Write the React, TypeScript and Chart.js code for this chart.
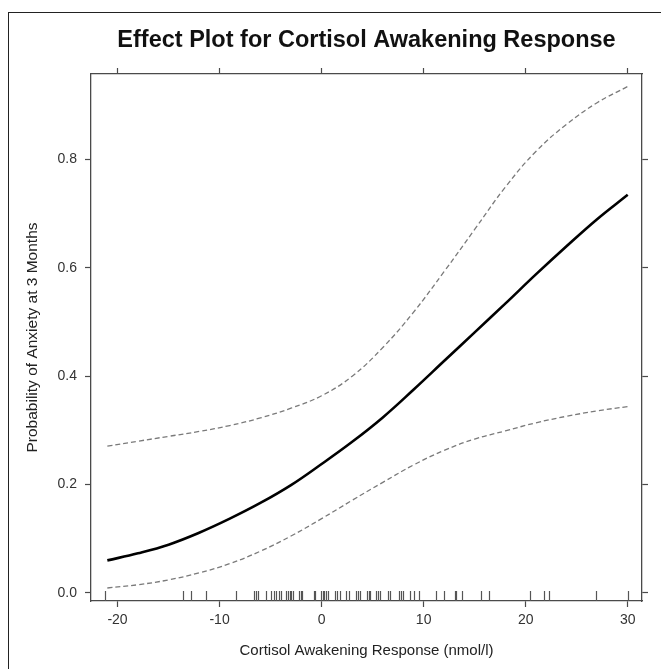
import React, { useEffect, useRef } from "react";
import { Chart, registerables } from "chart.js";

Chart.register(...registerables);

const xValues = [-21, -18, -15, -12, -9, -6, -3, 0, 3, 6, 9, 12, 15, 18, 21, 24, 27, 30];
const fitValues = [0.060, 0.073, 0.089, 0.111, 0.137, 0.166, 0.199, 0.238, 0.279, 0.324, 0.375, 0.428, 0.481, 0.534, 0.588, 0.640, 0.690, 0.735];
const upperValues = [0.271, 0.280, 0.289, 0.298, 0.309, 0.323, 0.341, 0.364, 0.400, 0.453, 0.518, 0.593, 0.671, 0.749, 0.815, 0.865, 0.905, 0.935];
const lowerValues = [0.009, 0.015, 0.024, 0.037, 0.054, 0.077, 0.105, 0.137, 0.171, 0.204, 0.236, 0.263, 0.284, 0.299, 0.314, 0.326, 0.336, 0.344];
const rugValues = [
  -21.2, -13.6, -12.79, -11.29, -8.4, -6.66, -6.46, -6.26, -5.48, -4.95, -4.7, -4.43, -4.17, -3.94,
  -3.45, -3.28, -3.13, -2.96, -2.79, -2.18, -2.01, -1.91, -0.77, -0.61, -0.05, 0.11, 0.27, 0.44, 0.6,
  1.35, 1.52, 1.84, 2.43, 2.73, 3.38, 3.54, 3.74, 4.46, 4.62, 4.78, 5.34, 5.5, 5.7, 6.48, 6.68, 7.56,
  7.79, 7.99, 8.71, 9.03, 9.56, 11.19, 11.97, 13.05, 13.22, 13.77, 15.64, 16.45, 20.4, 21.84, 22.33,
  26.91, 30.05,
];
const xTicks = [-20, -10, 0, 10, 20, 30];
const yTicks = [0, 0.2, 0.4, 0.6, 0.8];

const titleText = "Effect Plot for Cortisol Awakening Response";
const xTitle = "Cortisol Awakening Response (nmol/l)";
const yTitle = "Probability of Anxiety at 3 Months";

const X_MIN = -22.6;
const X_MAX = 31.4;
const Y_MIN = -0.015;
const Y_MAX = 0.958;

const FONT = "'Liberation Sans', Arial, sans-serif";
const AXIS_COLOR = "#4a4a4a";

const rugPlugin = {
  id: "rug",
  afterDatasetsDraw(chart: any) {
    const { ctx, chartArea, scales } = chart;
    const xs = scales.x;
    ctx.save();
    ctx.strokeStyle = "#555";
    ctx.lineWidth = 1.2;
    for (const v of rugValues) {
      const px = Math.round(xs.getPixelForValue(v)) + 0.5;
      ctx.beginPath();
      ctx.moveTo(px, chartArea.bottom);
      ctx.lineTo(px, chartArea.bottom - 10);
      ctx.stroke();
    }
    ctx.restore();
  },
};

function toPoints(vals: number[]) {
  return xValues.map((x, i) => ({ x, y: vals[i] }));
}

export default function App() {
  const ref = useRef<HTMLCanvasElement | null>(null);

  useEffect(() => {
    if (!ref.current) return;
    const setXTicks = (axis: any) => {
      axis.ticks = xTicks.map((v) => ({ value: v }));
    };
    const setYTicks = (axis: any) => {
      axis.ticks = yTicks.map((v) => ({ value: v }));
    };
    const gridCommon = {
      drawOnChartArea: false,
      drawTicks: true,
      tickLength: 6,
      color: AXIS_COLOR,
      tickWidth: 1.2,
    };
    const borderCommon = { display: true, color: AXIS_COLOR, width: 1.3 };

    const chart = new Chart(ref.current, {
      type: "line",
      data: {
        datasets: [
          {
            label: "upper",
            data: toPoints(upperValues),
            borderColor: "#7a7a7a",
            borderWidth: 1.3,
            borderDash: [5, 3],
            pointRadius: 0,
            tension: 0.4,
            fill: false,
          },
          {
            label: "lower",
            data: toPoints(lowerValues),
            borderColor: "#7a7a7a",
            borderWidth: 1.3,
            borderDash: [5, 3],
            pointRadius: 0,
            tension: 0.4,
            fill: false,
          },
          {
            label: "fit",
            data: toPoints(fitValues),
            borderColor: "#000",
            borderWidth: 2.6,
            pointRadius: 0,
            tension: 0.4,
            fill: false,
          },
        ],
      },
      options: {
        responsive: false,
        animation: false,
        events: [],
        layout: { padding: 0 },
        plugins: {
          legend: { display: false },
          tooltip: { enabled: false },
          title: { display: false },
        },
        scales: {
          x: {
            type: "linear",
            position: "bottom",
            min: X_MIN,
            max: X_MAX,
            afterBuildTicks: setXTicks,
            afterFit: (s: any) => {
              s.height = 68;
            },
            grid: gridCommon,
            border: borderCommon,
            ticks: {
              color: "#333",
              font: { family: FONT, size: 14 },
              padding: 5,
              maxRotation: 0,
              callback: (v: any) => String(v),
            },
            title: {
              display: true,
              text: xTitle,
              color: "#222",
              font: { family: FONT, size: 15 },
              padding: { top: 0, bottom: 9 },
            },
          },
          x2: {
            type: "linear",
            position: "top",
            min: X_MIN,
            max: X_MAX,
            afterBuildTicks: setXTicks,
            afterFit: (s: any) => {
              s.height = 74;
            },
            grid: gridCommon,
            border: borderCommon,
            ticks: { display: false },
            title: {
              display: true,
              text: titleText,
              color: "#111",
              font: { family: FONT, size: 23.5, weight: "bold" },
              padding: { top: 26, bottom: 0 },
            },
          },
          y: {
            type: "linear",
            position: "left",
            min: Y_MIN,
            max: Y_MAX,
            afterBuildTicks: setYTicks,
            afterFit: (s: any) => {
              s.width = 91;
            },
            grid: gridCommon,
            border: borderCommon,
            ticks: {
              color: "#333",
              font: { family: FONT, size: 14 },
              padding: 8,
              callback: (v: any) => Number(v).toFixed(1),
            },
            title: {
              display: true,
              text: yTitle,
              color: "#222",
              font: { family: FONT, size: 15.5 },
              padding: { top: 23, bottom: 0 },
            },
          },
          yRight: {
            type: "linear",
            position: "right",
            min: Y_MIN,
            max: Y_MAX,
            afterBuildTicks: setYTicks,
            afterFit: (s: any) => {
              s.width = 19;
            },
            grid: gridCommon,
            border: borderCommon,
            ticks: { display: false },
          },
        },
      },
      plugins: [rugPlugin],
    });
    return () => chart.destroy();
  }, []);

  return (
    <div
      style={{
        position: "absolute",
        left: 0,
        top: 0,
        width: 661,
        height: 669,
        overflow: "hidden",
        background: "#fff",
      }}
    >
      <div
        style={{
          position: "absolute",
          left: 8,
          top: 12,
          width: 720,
          height: 720,
          border: "1.5px solid #222",
          boxSizing: "border-box",
        }}
      />
      <canvas
        ref={ref}
        width={661}
        height={669}
        style={{ position: "absolute", left: 0, top: 0, display: "block" }}
      />
    </div>
  );
}
